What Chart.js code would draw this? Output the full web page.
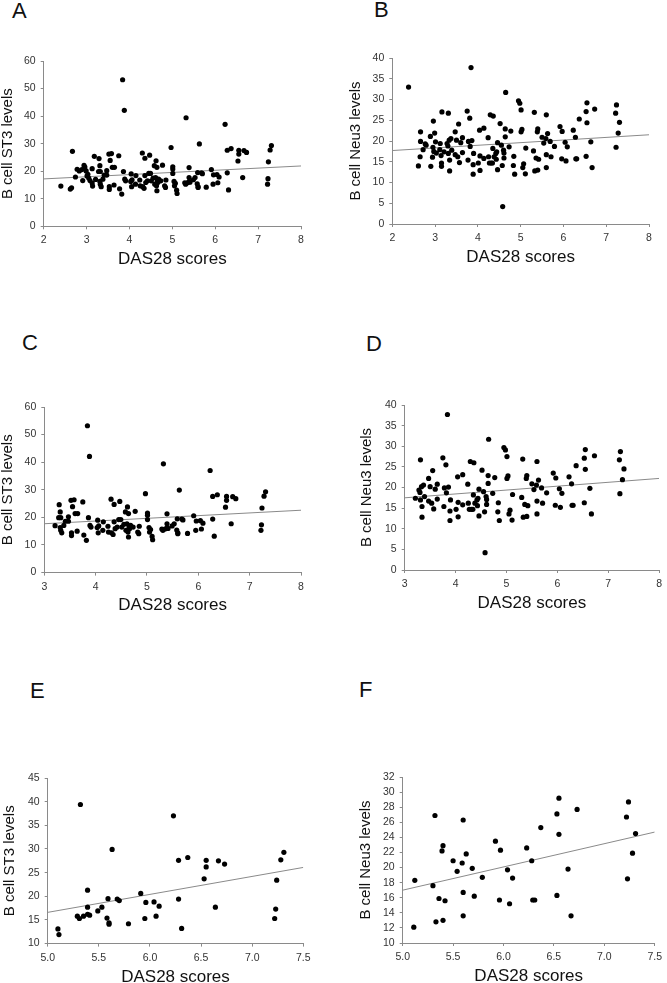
<!DOCTYPE html>
<html>
<head>
<meta charset="utf-8">
<script src="https://cdn.jsdelivr.net/npm/chart.js@4.4.1/dist/chart.umd.min.js"></script>
<style>
  html, body { margin: 0; padding: 0; background: #fff; overflow: hidden; }
  body { width: 667px; height: 983px; position: relative; font-family: 'Liberation Sans', Arial, sans-serif; }
  canvas { position: absolute; }
  .letter { position: absolute; font-size: 22px; line-height: 1; color: #111; }
</style>
</head>
<body>
<div class="letter" style="left:12px;top:0px">A</div>
<div class="letter" style="left:374px;top:-1px">B</div>
<div class="letter" style="left:22px;top:332px">C</div>
<div class="letter" style="left:366px;top:333px">D</div>
<div class="letter" style="left:30px;top:680px">E</div>
<div class="letter" style="left:359px;top:679px">F</div>

<canvas id="cA"></canvas>
<canvas id="cB"></canvas>
<canvas id="cC"></canvas>
<canvas id="cD"></canvas>
<canvas id="cE"></canvas>
<canvas id="cF"></canvas>

<script>
// B cell ST3 vs DAS28, split by disease activity (<3.2, 3.2-5.1, >5.1)
const st3Low = [
  [2.40,14.6],[2.62,13.5],[2.65,14.0],[2.67,27.2],[2.74,17.9],[2.78,20.7],[2.83,20.1],
  [2.89,20.6],[2.91,16.6],[2.94,22.1],[2.96,21.5],[2.99,20.1],[3.01,18.3],[3.03,18.9],
  [3.05,17.5],[3.08,16.6],[3.13,15.7],[3.14,14.6],[3.13,20.9],[3.18,25.4]
];
const st3Mid = [
  [3.21,17.0],[3.29,24.6],[3.28,19.9],[3.32,19.9],[3.31,22.0],[3.31,16.3],[3.32,15.3],
  [3.34,14.4],[3.38,17.1],[3.41,18.6],[3.47,20.2],[3.47,18.6],[3.52,26.2],[3.53,14.4],
  [3.53,13.4],[3.55,23.9],[3.58,26.4],[3.60,21.4],[3.64,15.0],[3.65,21.4],[3.75,25.6],
  [3.77,13.6],[3.82,11.7],[3.84,53.2],[3.88,42.1],[3.86,19.9],[3.89,17.1],[3.91,16.5],
  [4.04,19.0],[4.03,16.3],[4.05,14.4],[4.06,16.9],[4.15,18.4],[4.14,15.3],[4.24,16.8],
  [4.25,14.7],[4.30,26.6],[4.31,14.4],[4.34,13.8],[4.36,24.7],[4.36,18.4],[4.38,15.9],
  [4.42,16.5],[4.45,19.2],[4.47,25.8],[4.49,19.2],[4.51,16.5],[4.55,17.5],[4.58,22.0],
  [4.59,15.3],[4.61,17.7],[4.62,23.8],[4.63,14.7],[4.64,12.9],[4.64,21.4],[4.65,16.5],
  [4.66,15.9],[4.68,17.1],[4.73,16.5],[4.77,22.2],[4.82,14.7],[4.84,14.1],[4.85,16.8],
  [4.97,28.6],[5.01,21.6],[5.01,20.8],[5.01,19.2],[5.04,16.3],[5.05,14.7],[5.07,15.6]
];
const st3High = [
  [5.10,13.1],[5.11,11.9],[5.29,15.8],[5.31,15.3],[5.32,39.4],[5.35,15.8],[5.39,16.2],
  [5.39,17.7],[5.39,21.3],[5.41,16.0],[5.49,16.9],[5.53,17.7],[5.58,15.4],[5.59,19.5],
  [5.60,14.4],[5.60,14.1],[5.63,29.9],[5.68,19.4],[5.70,19.1],[5.79,14.2],[5.91,20.6],
  [5.95,15.3],[5.96,18.7],[6.04,18.8],[6.06,15.8],[6.09,17.9],[6.23,37.0],[6.28,19.4],
  [6.28,27.6],[6.31,13.2],[6.37,28.2],[6.53,23.7],[6.55,27.6],[6.55,26.2],[6.64,17.7],
  [6.67,27.5],[6.73,26.8],[7.22,15.3],[7.23,17.3],[7.24,23.4],[7.28,27.7],[7.31,29.3]
];

// B cell Neu3 vs DAS28
const neu3Low = [
  [2.38,33.0],[2.61,14.0],[2.65,16.2],[2.66,19.9],[2.66,22.2],[2.72,17.9],[2.77,19.3],
  [2.79,19.0],[2.89,21.1],[2.90,13.9],[2.94,16.1],[2.96,24.8],[2.95,18.5],[2.97,17.5],
  [2.99,21.9],[3.01,19.8],[3.03,17.1],[3.11,17.9],[3.12,19.4],[3.14,16.5],[3.15,14.7],
  [3.16,27.0],[3.15,13.9]
];
const neu3Mid = [
  [3.21,17.4],[3.28,19.4],[3.31,26.7],[3.30,18.8],[3.31,17.0],[3.33,20.2],[3.34,15.4],
  [3.34,12.8],[3.37,20.6],[3.39,17.8],[3.47,22.2],[3.47,16.7],[3.50,20.2],[3.53,16.2],
  [3.55,24.1],[3.57,14.8],[3.60,19.6],[3.64,20.8],[3.64,17.2],[3.75,27.2],[3.77,15.4],
  [3.78,19.9],[3.82,18.7],[3.81,25.5],[3.84,37.7],[3.86,20.1],[3.89,14.3],[3.89,12.0],
  [3.90,17.0],[4.01,14.7],[4.04,22.6],[4.05,16.4],[4.05,12.9],[4.14,23.1],[4.14,15.8],
  [4.24,20.8],[4.25,16.2],[4.27,14.7],[4.29,26.3],[4.31,14.7],[4.34,14.7],[4.35,18.2],
  [4.36,26.0],[4.38,16.2],[4.42,17.0],[4.43,15.6],[4.44,17.4],[4.46,19.6],[4.46,13.1],
  [4.52,24.2],[4.55,19.0],[4.57,14.1],[4.58,4.2],[4.60,17.8],[4.61,15.9],[4.61,17.1],
  [4.64,22.9],[4.64,21.0],[4.65,31.7],[4.73,18.6],[4.77,22.4],[4.84,16.3],[4.83,14.1],
  [4.86,12.0],[4.95,29.7],[4.98,29.1],[5.01,27.5],[5.01,22.2],[5.03,22.8],[5.05,13.6],
  [5.07,14.5]
];
const neu3High = [
  [5.11,12.1],[5.12,18.3],[5.30,17.6],[5.32,26.9],[5.33,12.8],[5.36,15.9],[5.39,22.2],
  [5.40,22.9],[5.40,13.0],[5.42,15.6],[5.50,20.9],[5.54,19.5],[5.59,20.6],[5.60,26.3],
  [5.60,16.7],[5.60,13.6],[5.63,21.8],[5.69,19.9],[5.71,16.2],[5.79,18.7],[5.92,23.5],
  [5.96,15.7],[5.97,22.3],[6.04,19.7],[6.06,15.2],[6.09,18.6],[6.23,22.6],[6.28,20.9],
  [6.29,15.7],[6.31,15.7],[6.37,25.3],[6.53,27.1],[6.53,16.3],[6.55,29.2],[6.55,24.4],
  [6.64,19.8],[6.67,13.6],[6.73,27.7],[7.22,26.7],[7.23,18.5],[7.24,28.7],[7.28,21.9],
  [7.31,24.5]
];

// trend line end points
const fitA = [[2, 17.2], [8, 21.9]];
const fitB = [[2, 17.7], [8, 21.5]];
const fitC = [[3, 17.7], [8, 22.6]];
const fitD = [[3, 17.5], [8, 22.2]];
const fitE = [[5, 16.6], [7.5, 26.1]];
const fitF = [[5, 17.0], [7.5, 24.7]];

// tick labels
const xTicksAll = [2, 3, 4, 5, 6, 7, 8];
const xTicksMid = [3, 4, 5, 6, 7, 8];
const xTicksHigh = [5.0, 5.5, 6.0, 6.5, 7.0, 7.5];
const yTicksST3 = [0, 10, 20, 30, 40, 50, 60];
const yTicksNeu3 = [0, 5, 10, 15, 20, 25, 30, 35, 40];
const yTicksST3High = [10, 15, 20, 25, 30, 35, 40, 45];
const yTicksNeu3High = [10, 12, 14, 16, 18, 20, 22, 24, 26, 28, 30, 32];

const xTitle = 'DAS28 scores';
const st3Title = 'B cell ST3 levels';
const neu3Title = 'B cell Neu3 levels';

const FONT = "'Liberation Sans', Arial, sans-serif";

// plot = [left, top, right, bottom] of the plotting area on the page
const panels = [
  {id: 'cA', col: 0,   plot: [43.7, 60.7, 301, 226],   yTitleX: 8,   xTitleY: 259,
   pts: st3Low.concat(st3Mid, st3High), fit: fitA, xt: xTicksAll, yt: yTicksST3, dec: 0, yTitle: st3Title},
  {id: 'cB', col: 333, plot: [392.3, 58.3, 649, 224.3], yTitleX: 356, xTitleY: 257.5,
   pts: neu3Low.concat(neu3Mid, neu3High), fit: fitB, xt: xTicksAll, yt: yTicksNeu3, dec: 0, yTitle: neu3Title},
  {id: 'cC', col: 0,   plot: [44.3, 406.7, 301, 572.3], yTitleX: 8,   xTitleY: 605.5,
   pts: st3Mid.concat(st3High), fit: fitC, xt: xTicksMid, yt: yTicksST3, dec: 0, yTitle: st3Title},
  {id: 'cD', col: 333, plot: [404.7, 405, 661, 570],    yTitleX: 367, xTitleY: 603,
   pts: neu3Mid.concat(neu3High), fit: fitD, xt: xTicksMid, yt: yTicksNeu3, dec: 0, yTitle: neu3Title},
  {id: 'cE', col: 0,   plot: [47.7, 777.7, 303.3, 943.3], yTitleX: 9.5, xTitleY: 977,
   pts: st3High, fit: fitE, xt: xTicksHigh, yt: yTicksST3High, dec: 1, yTitle: st3Title},
  {id: 'cF', col: 333, plot: [402.7, 777.3, 659, 943.3], yTitleX: 366, xTitleY: 976.5,
   pts: neu3High, fit: fitF, xt: xTicksHigh, yt: yTicksNeu3High, dec: 1, yTitle: neu3Title}
];

function toXY(arr) {
  return arr.map(p => ({x: p[0], y: p[1]}));
}

panels.forEach(p => {
  const [L, T, R, B] = p.plot;
  const left = p.col;
  const width = p.col === 0 ? 333 : 334;
  const top = T - 15;
  const bottom = p.xTitleY + 10;
  const height = Math.round(bottom - top);

  const cv = document.getElementById(p.id);
  cv.width = width;
  cv.height = height;
  cv.style.left = left + 'px';
  cv.style.top = top + 'px';
  cv.style.width = width + 'px';
  cv.style.height = height + 'px';

  const tickFont = {size: 10.5, family: FONT};

  new Chart(cv, {
    type: 'scatter',
    data: {
      datasets: [{
        data: toXY(p.pts),
        backgroundColor: '#000',
        borderColor: '#000',
        borderWidth: 0,
        pointRadius: 2.6,
        pointHoverRadius: 2.6
      }, {
        data: toXY(p.fit),
        showLine: true,
        borderColor: '#8a8a8a',
        borderWidth: 1,
        pointRadius: 0,
        fill: false
      }]
    },
    options: {
      responsive: false,
      animation: false,
      events: [],
      layout: {padding: {left: 0, top: 15, right: left + width - R, bottom: 0}},
      plugins: {legend: {display: false}, tooltip: {enabled: false}},
      scales: {
        x: {
          type: 'linear',
          position: 'bottom',
          min: p.xt[0],
          max: p.xt[p.xt.length - 1],
          afterBuildTicks: s => { s.ticks = p.xt.map(v => ({value: v})); },
          afterFit: s => { s.height = (top + height) - B; },
          ticks: {
            callback: v => Number(v).toFixed(p.dec),
            font: tickFont, color: '#333', padding: 5, maxRotation: 0, autoSkip: false
          },
          grid: {drawOnChartArea: false, tickLength: 3, color: '#8a8a8a'},
          border: {color: '#8a8a8a', width: 1},
          title: {
            display: true, text: xTitle, color: '#111',
            font: {size: 17, family: FONT, lineHeight: 1},
            padding: {top: 0, bottom: (top + height) - p.xTitleY - 8.5}
          }
        },
        y: {
          type: 'linear',
          min: p.yt[0],
          max: p.yt[p.yt.length - 1],
          afterBuildTicks: s => { s.ticks = p.yt.map(v => ({value: v})); },
          afterFit: s => { s.width = L - left; },
          ticks: {font: tickFont, color: '#333', padding: 5, autoSkip: false},
          grid: {drawOnChartArea: false, tickLength: 3, color: '#8a8a8a'},
          border: {color: '#8a8a8a', width: 1},
          title: {
            display: true, text: p.yTitle, color: '#111',
            font: {size: 15, family: FONT, lineHeight: 1},
            padding: {top: p.yTitleX - left - 7.5, bottom: 0}
          }
        }
      }
    }
  });
});
</script>
</body>
</html>
